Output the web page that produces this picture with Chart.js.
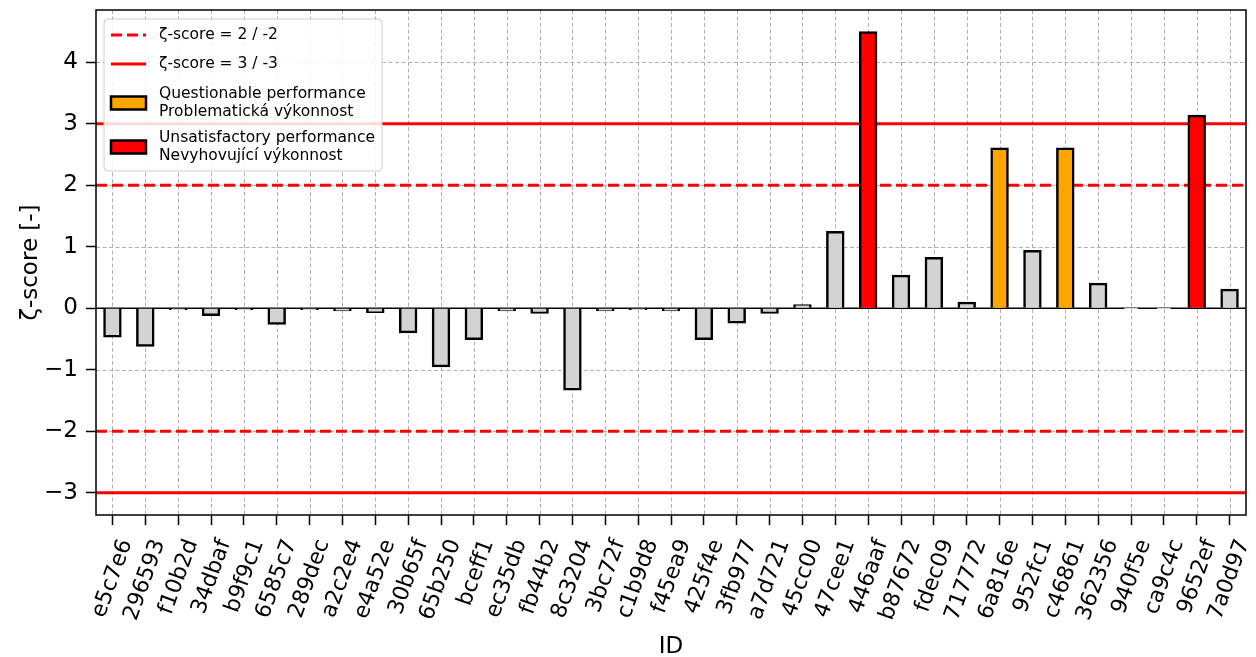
<!DOCTYPE html>
<html><head><meta charset="utf-8">
<script src="https://cdn.jsdelivr.net/npm/chart.js@4/dist/chart.umd.min.js"></script>
<style>html,body{margin:0;padding:0;background:#fff;}canvas{display:block;}</style>
</head><body>
<canvas id="c" width="1256" height="657"></canvas>
<script>
// ---- data ----
const ids = ['e5c7e6','296593','f10b2d','34dbaf','b9f9c1','6585c7','289dec','a2c2e4','e4a52e','30b65f',
  '65b250','bceff1','ec35db','fb44b2','8c3204','3bc72f','c1b9d8','f45ea9','425f4e','3fb977',
  'a7d721','45cc00','47cee1','446aaf','b87672','fdec09','717772','6a816e','952fc1','c46861',
  '362356','940f5e','ca9c4c','9652ef','7a0d97'];
const zScores = [-0.46,-0.61,-0.01,-0.11,-0.01,-0.25,-0.01,-0.03,-0.06,-0.39,
  -0.94,-0.50,-0.03,-0.07,-1.32,-0.03,-0.01,-0.03,-0.50,-0.23,
  -0.07,0.05,1.24,4.49,0.53,0.82,0.09,2.60,0.93,2.60,
  0.40,0.005,0.005,3.13,0.30];
const dashedLimits = [2, -2];
const solidLimits = [3, -3];
const yTickValues = [-3,-2,-1,0,1,2,3,4];
const yRange = [-3.36, 4.85];
const legendItems = [
  ['ζ-score = 2 / -2'],
  ['ζ-score = 3 / -3'],
  ['Questionable performance','Problematická výkonnost'],
  ['Unsatisfactory performance','Nevyhovující výkonnost']
];

const FONT = 'DejaVu Sans';
const barColor = v => Math.abs(v) >= 3 ? '#ff0000' : (Math.abs(v) >= 2 ? '#ffa500' : '#d3d3d3');

const decor = {
  id: 'decor',
  beforeDatasetsDraw(chart) {
    const ctx = chart.ctx, a = chart.chartArea, xs = chart.scales.x, ys = chart.scales.y;
    ctx.save();
    ctx.strokeStyle = '#b0b0b0'; ctx.lineWidth = 1; ctx.setLineDash([4, 2.5]);
    ids.forEach((_, i) => {
      const px = Math.round(xs.getPixelForValue(i)) + 0.5;
      ctx.beginPath(); ctx.moveTo(px, a.top); ctx.lineTo(px, a.bottom); ctx.stroke();
    });
    yTickValues.forEach(v => {
      const py = Math.round(ys.getPixelForValue(v)) + 0.5;
      ctx.beginPath(); ctx.moveTo(a.left, py); ctx.lineTo(a.right, py); ctx.stroke();
    });
    ctx.setLineDash([]); ctx.strokeStyle = '#000'; ctx.lineWidth = 1.5;
    let p0 = ys.getPixelForValue(0);
    ctx.beginPath(); ctx.moveTo(a.left, p0); ctx.lineTo(a.right, p0); ctx.stroke();
    ctx.strokeStyle = '#ff0000'; ctx.lineWidth = 3;
    ctx.setLineDash([11, 5]);
    dashedLimits.forEach(v => {
      const py = ys.getPixelForValue(v);
      ctx.beginPath(); ctx.moveTo(a.left, py); ctx.lineTo(a.right, py); ctx.stroke();
    });
    ctx.setLineDash([]);
    solidLimits.forEach(v => {
      const py = ys.getPixelForValue(v);
      ctx.beginPath(); ctx.moveTo(a.left, py); ctx.lineTo(a.right, py); ctx.stroke();
    });
    ctx.restore();
  },
  afterDraw(chart) {
    const ctx = chart.ctx, a = chart.chartArea;
    ctx.save();
    ctx.strokeStyle = '#000'; ctx.lineWidth = 1.5;
    ctx.strokeRect(a.left, a.top, a.right - a.left, a.bottom - a.top);
    const lx = a.left + 8, ly = a.top + 9, lw = 278, lh = 152;
    ctx.beginPath();
    ctx.roundRect(lx, ly, lw, lh, 4);
    ctx.fillStyle = 'rgba(255,255,255,0.85)'; ctx.fill();
    ctx.strokeStyle = '#cccccc'; ctx.lineWidth = 1; ctx.stroke();
    const hx0 = lx + 7, hx1 = lx + 42, tx = lx + 55;
    ctx.font = '15.5px "' + FONT + '"'; ctx.textBaseline = 'middle'; ctx.textAlign = 'left';
    ctx.fillStyle = '#000';
    let y1 = ly + 16;
    ctx.strokeStyle = '#ff0000'; ctx.lineWidth = 3; ctx.setLineDash([11, 5]);
    ctx.beginPath(); ctx.moveTo(hx0, y1); ctx.lineTo(hx1, y1); ctx.stroke();
    ctx.setLineDash([]);
    ctx.fillText(legendItems[0][0], tx, y1);
    let y2 = ly + 45;
    ctx.beginPath(); ctx.moveTo(hx0, y2); ctx.lineTo(hx1, y2); ctx.stroke();
    ctx.fillText(legendItems[1][0], tx, y2);
    const patches = [[legendItems[2], '#ffa500', ly + 84], [legendItems[3], '#ff0000', ly + 128]];
    patches.forEach(([lines, col, cy]) => {
      ctx.fillStyle = col; ctx.fillRect(hx0, cy - 6.5, hx1 - hx0, 13);
      ctx.strokeStyle = '#000'; ctx.lineWidth = 2.5; ctx.strokeRect(hx0, cy - 6.5, hx1 - hx0, 13);
      ctx.fillStyle = '#000';
      ctx.fillText(lines[0], tx, cy - 9.5);
      ctx.fillText(lines[1], tx, cy + 9);
    });
    ctx.restore();
  }
};

new Chart(document.getElementById('c'), {
  type: 'bar',
  data: {
    labels: ids,
    datasets: [{
      data: zScores,
      backgroundColor: zScores.map(barColor),
      borderColor: '#000',
      borderWidth: 2.5,
      inflateAmount: 1,
      barPercentage: 0.5,
      categoryPercentage: 1.0
    }]
  },
  options: {
    responsive: false,
    animation: false,
    layout: { padding: { left: 0, top: 10, right: 10, bottom: 0 } },
    plugins: { legend: { display: false }, tooltip: { enabled: false } },
    scales: {
      x: {
        offset: true,
        grid: { display: true, offset: false, drawOnChartArea: false, tickLength: 10, tickColor: '#000', tickWidth: 1.5 },
        border: { display: false },
        ticks: { autoSkip: false, maxRotation: 70, minRotation: 70, labelOffset: 14, padding: 11,
          color: '#000', font: { family: FONT, size: 22 } },
        title: { display: true, text: 'ID', color: '#000', font: { family: FONT, size: 23 }, padding: { top: 0, bottom: -4 } },
        afterFit(s) { s.height = 142; s.paddingLeft = 0; s.paddingRight = 0; }
      },
      y: {
        min: yRange[0], max: yRange[1],
        grid: { display: true, drawOnChartArea: false, tickLength: 10, tickColor: '#000', tickWidth: 1.5 },
        border: { display: false },
        afterBuildTicks(s) { s.ticks = yTickValues.map(v => ({ value: v })); },
        ticks: { padding: 8, color: '#000', font: { family: FONT, size: 23 },
          callback: v => (v < 0 ? '\u2212' + Math.abs(v) : String(v)) },
        title: { display: true, text: 'ζ-score [-]', color: '#000', font: { family: FONT, size: 23 }, padding: { top: 17, bottom: 0 } },
        afterFit(s) { s.width = 96; s.paddingTop = 0; s.paddingBottom = 0; }
      }
    }
  },
  plugins: [decor]
});
</script>
</body></html>
